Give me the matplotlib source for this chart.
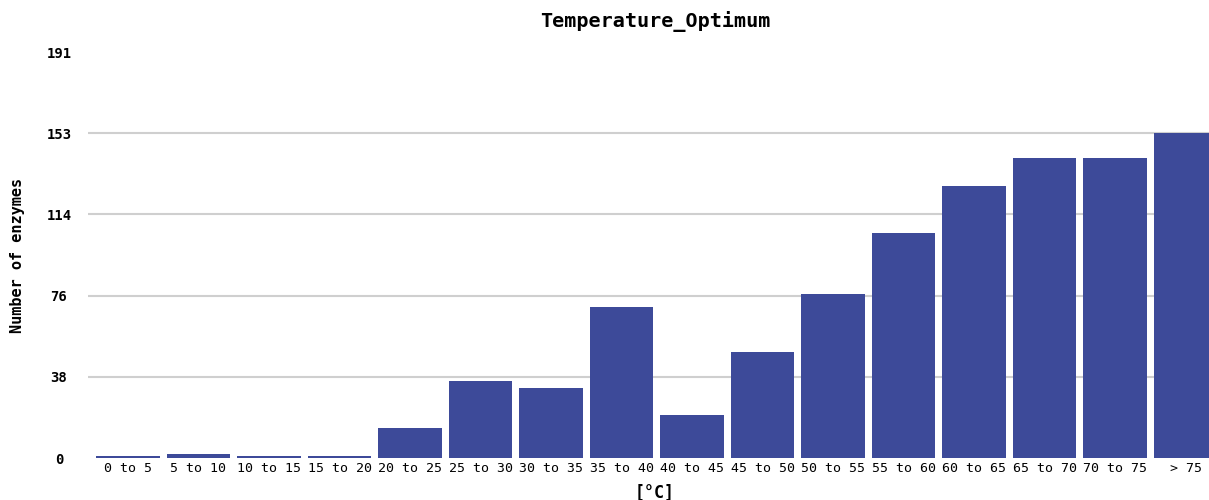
import numpy as np
import matplotlib
matplotlib.use("Agg")
import matplotlib.pyplot as plt

# Datos
categories = ["0 to 5", "5 to 10", "10 to 15", "15 to 20", "20 to 25",
              "25 to 30", "30 to 35", "35 to 40", "40 to 45", "45 to 50",
              "50 to 55", "55 to 60", "60 to 65", "65 to 70", "70 to 75", "> 75"]
enzymes = [1, 2, 1, 1, 14, 36, 33, 71, 20, 50, 77, 106, 128, 141, 141, 153]
y_ticks = [0, 38.2, 76.4, 114.6, 152.8, 191]
y_ticklabels = ["0", "38", "76", "114", "153", "191"]

bar_color = "#3d4a99"
grid_color = "#cfcfcf"
mono = "DejaVu Sans Mono"

fig = plt.figure(figsize=(12.09, 5.0), dpi=100)
W, H = 1209, 500
# eje: izquierda en x=88 px, base en y=458 px, tope (191) en y=52 px
ax = fig.add_axes([88 / W, (H - 458) / H, (W - 88) / W, (458 - 52) / H])

x = np.arange(len(categories))
ax.bar(x, enzymes, width=0.9, color=bar_color, zorder=3)

# lineas de grilla (sin la de 0 ni la de 191)
for yv in y_ticks[1:-1]:
    ax.axhline(yv, color=grid_color, linewidth=1.5, zorder=1)

ax.set_xlim(-0.567, 15.33)
ax.set_ylim(0, 191)
ax.set_yticks(y_ticks)
ax.set_yticklabels(y_ticklabels, family=mono, fontsize=10, fontweight="bold",
                   ha="center")
ax.set_xticks(x)
ax.set_xticklabels(categories, family=mono, fontsize=9.5)
ax.tick_params(axis="y", length=0, pad=21)
ax.tick_params(axis="x", length=0, pad=3)
for s in ax.spines.values():
    s.set_visible(False)

# Textos
fig.text(655 / W, 1 - 22 / H, "Temperature_Optimum", family=mono,
         fontsize=14.5, fontweight="bold", ha="center", va="center")
fig.text(655 / W, 1 - 493 / H, "[°C]", family=mono, fontsize=12,
         fontweight="bold", ha="center", va="center")
fig.text(18 / W, 1 - 255 / H, "Number of enzymes", family=mono, fontsize=11,
         fontweight="bold", ha="center", va="center", rotation=90)

fig.savefig("out.png", dpi=100)
plt.close(fig)
